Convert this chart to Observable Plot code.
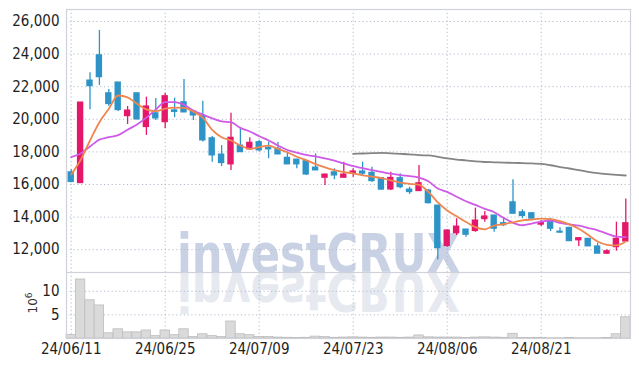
<!DOCTYPE html>
<html><head><meta charset="utf-8">
<script src="https://cdn.jsdelivr.net/npm/d3@7"></script>
<script src="https://cdn.jsdelivr.net/npm/@observablehq/plot@0.6"></script>
<style>
body{margin:0;background:#fff;}
#chart{width:639px;height:366px;position:relative;overflow:hidden;}
#chart svg{display:block;position:relative;z-index:1;}
#chart svg.wm{position:absolute;left:0;top:0;z-index:0;}
</style></head><body><div id="chart"></div>
<script>
const dates = [
"24/06/11","24/06/12","24/06/13","24/06/14","24/06/17","24/06/18","24/06/19","24/06/20","24/06/21","24/06/24",
"24/06/25","24/06/26","24/06/27","24/06/28","24/07/01","24/07/02","24/07/03","24/07/04","24/07/05","24/07/08",
"24/07/09","24/07/10","24/07/11","24/07/12","24/07/15","24/07/16","24/07/17","24/07/18","24/07/19","24/07/22",
"24/07/23","24/07/24","24/07/25","24/07/26","24/07/29","24/07/30","24/07/31","24/08/01","24/08/02","24/08/05",
"24/08/06","24/08/07","24/08/08","24/08/09","24/08/12","24/08/13","24/08/14","24/08/16","24/08/19","24/08/20",
"24/08/21","24/08/22","24/08/23","24/08/26","24/08/27","24/08/28","24/08/29","24/08/30","24/09/02","24/09/03"];

const open = [16750,16080,22380,23930,21600,22260,20190,21600,19520,20370,
19820,20550,21050,20480,20230,18840,17840,17230,18390,18150,
18600,18250,18190,17640,17530,17430,17040,16410,16750,16410,
16660,16800,16720,16390,15690,16390,15690,15590,15630,14710,
12220,13010,13240,13140,13870,14100,13630,14910,14300,14240,
13530,13790,13110,13340,12570,12670,12200,11750,12150,12500];
const high = [16900,21030,22850,25450,21830,22260,20790,21600,21360,21280,
21600,21300,22440,20500,21110,18950,18390,20370,19420,18870,
18700,18600,18580,17980,17530,17470,17880,16650,16960,17370,
16960,17370,17060,16390,16750,16660,15830,17170,15700,14710,
13200,13900,13240,14550,14340,14100,13900,16290,14450,14260,
13790,13930,13340,13380,12710,12670,12400,11990,13690,15110];
const low = [16100,16080,20580,22070,20790,20480,19680,19950,19010,19930,
19420,20100,20400,19930,18600,17370,17100,16860,17980,18090,
18000,17580,17840,17230,16960,16550,16860,15940,16290,16400,
16440,16550,16140,15650,15630,15740,15390,15590,14800,11380,
12150,12870,12770,13070,13690,13070,13420,14200,13900,13900,
13420,13110,13010,12520,12200,12200,11750,11700,11910,12500];
const close = [16150,21030,22030,22580,20930,20560,20540,19990,20790,20050,
21420,20450,20420,20230,18700,17780,17310,18870,17980,18560,
18090,18150,17840,17230,17230,16610,16860,16610,16550,16610,
16800,16660,16200,15680,16410,15830,15530,16080,14850,12090,
13180,13420,12910,13790,14040,13280,13500,14200,14060,13900,
13650,13280,13040,12520,12710,12200,11750,11910,12670,13630];
// volume in millions of shares
const volume = [0.75,12.5,8.1,7.0,1.1,1.95,1.3,1.3,1.7,0.5,
1.7,0.7,1.95,0.3,0.9,0.5,0.3,3.6,0.9,0.7,
0.3,0.3,0.2,0.15,0.1,0.15,0.4,0.3,0.15,0.2,
0.25,0.2,0.15,0.2,0.2,0.15,0.2,0.65,0.25,0.2,
0.2,0.2,0.1,0.2,0.25,0.2,0.15,1.0,0.1,0.1,
0.1,0.05,0.05,0.1,0.05,0.05,0.05,0.1,0.9,4.5];
const ma5 = [16610,17500,18700,19820,20650,21460,21350,20950,20610,20500,
20650,20720,20705,20470,20100,19350,18900,18700,18393,18190,
18290,18390,18180,17980,17700,17500,17250,17050,16880,16760,
16680,16560,16480,16390,16250,16120,16040,15980,15550,14900,
14400,14050,13700,13380,13250,13480,13560,13680,13800,13850,
13900,13880,13750,13550,13280,12900,12500,12300,12260,12500];
const ma20 = [17675,17900,18330,18750,18900,19030,19360,19680,20100,20600,
21049,21049,20880,20540,20290,20060,19870,19820,19470,19250,
18960,18700,18393,18117,17960,17810,17720,17600,17470,17290,
17120,17000,16880,16770,16660,16570,16510,16420,16200,15750,
15550,15250,14970,14750,14500,14300,13950,13650,13500,13600,
13720,13790,13650,13550,13470,13330,13190,12980,12800,12770];
const ma120 = [null,null,null,null,null,null,null,null,null,null,
null,null,null,null,null,null,null,null,null,null,
null,null,null,null,null,null,null,null,null,null,
17880,17900,17920,17940,17910,17880,17850,17800,17780,17700,
17600,17530,17480,17420,17380,17360,17340,17330,17310,17290,
17270,17180,17070,16980,16880,16780,16700,16640,16590,16550];

const xTickIdx = [0,10,20,30,40,50];
const priceTicks = [12000,14000,16000,18000,20000,22000,24000,26000];
const volTicks = [5,10];
const watermark = "investCRUX";

const rows = dates.map((d,i)=>({i, date:d, o:open[i], h:high[i], l:low[i], c:close[i], v:volume[i], m5:ma5[i], m20:ma20[i], m120:ma120[i]}));
const RED = "#e5176b", BLUE = "#2e94c8";
const col = d => d.c >= d.o ? RED : BLUE;
const fontFam = "'Liberation Sans Narrow','DejaVu Sans Condensed','Roboto Condensed',sans-serif";
const gridStyle = {stroke: "#b3bccf", strokeWidth: 1, strokeDasharray: "1.2,2.6"};
const W = 639;

const price = Plot.plot({
  width: W, height: 272, marginTop: 9, marginBottom: 0, marginLeft: 66, marginRight: 9,
  style: {fontFamily: fontFam, fontSize: "15px", color: "#1e1e1e", background: "transparent"},
  x: {domain: [-0.5, 59.5], axis: null},
  y: {domain: [10600, 26736], ticks: priceTicks, tickFormat: d3.format(","), tickSize: 0, tickPadding: 7, label: null},
  marks: [
    Plot.ruleY(priceTicks, gridStyle),
    Plot.ruleX(xTickIdx, gridStyle),
    Plot.ruleX(rows, {x: "i", y1: "l", y2: "h", stroke: col, strokeWidth: 1.3}),
    Plot.rectY(rows, {x1: d => d.i - 0.34, x2: d => d.i + 0.34, y1: "o", y2: "c", fill: col, insetTop: -0.5, insetBottom: -0.5}),
    Plot.lineY(rows.filter(d => d.m120 != null), {x: "i", y: "m120", stroke: "#858585", strokeWidth: 1.8, curve: "monotone-x"}),
    Plot.lineY(rows, {x: "i", y: "m20", stroke: "#cf5ae8", strokeWidth: 1.8, curve: "monotone-x"}),
    Plot.lineY(rows, {x: "i", y: "m5", stroke: "#ef8650", strokeWidth: 1.8, curve: "monotone-x"}),
    Plot.frame({stroke: "#cfd2da", strokeWidth: 1.2})
  ]
});

const vol = Plot.plot({
  width: W, height: 94, marginTop: 0, marginBottom: 28, marginLeft: 66, marginRight: 9,
  style: {fontFamily: fontFam, fontSize: "15px", color: "#1e1e1e", background: "transparent"},
  x: {domain: [-0.5, 59.5], ticks: xTickIdx, tickFormat: i => dates[i], tickSize: 0, tickPadding: 5, label: null},
  y: {domain: [0, 13.98], ticks: volTicks, tickSize: 0, tickPadding: 7, label: null},
  marks: [
    Plot.ruleY(volTicks, gridStyle),
    Plot.ruleX(xTickIdx, gridStyle),
    Plot.rectY(rows, {x1: d => d.i - 0.5, x2: d => d.i + 0.5, y: "v", fill: "#dadada", stroke: "#bdbdbd", strokeWidth: 0.8}),
    Plot.frame({stroke: "#cfd2da", strokeWidth: 1.2})
  ]
});

// volume unit label
{
  const lab = d3.select(vol).append("text").attr("transform", "translate(37,31) rotate(-90)")
   .attr("text-anchor", "middle").attr("font-family", "'DejaVu Sans',sans-serif")
   .attr("font-size", 12).attr("fill", "#333");
  lab.append("tspan").text("10");
  lab.append("tspan").attr("dy", -5).attr("font-size", 9).text("6");
}

// watermark layer behind both panels
const wm = d3.create("svg").attr("class", "wm").attr("width", W).attr("height", 366);
wm.append("text").attr("x", 318.5).attr("y", 272).attr("text-anchor", "middle")
  .attr("font-family", "'DejaVu Sans',sans-serif").attr("font-weight", "bold")
  .attr("font-size", 54).attr("fill", "#c9d1e4")
  .attr("textLength", 283).attr("lengthAdjust", "spacingAndGlyphs").text(watermark);
wm.append("text").attr("transform", "translate(318.5,273) scale(1,-1)").attr("text-anchor", "middle")
  .attr("font-family", "'DejaVu Sans',sans-serif").attr("font-weight", "bold")
  .attr("font-size", 54).attr("fill", "#e6e9f0")
  .attr("textLength", 283).attr("lengthAdjust", "spacingAndGlyphs").text(watermark);

document.getElementById("chart").append(wm.node(), price, vol);
</script>
</body></html>
